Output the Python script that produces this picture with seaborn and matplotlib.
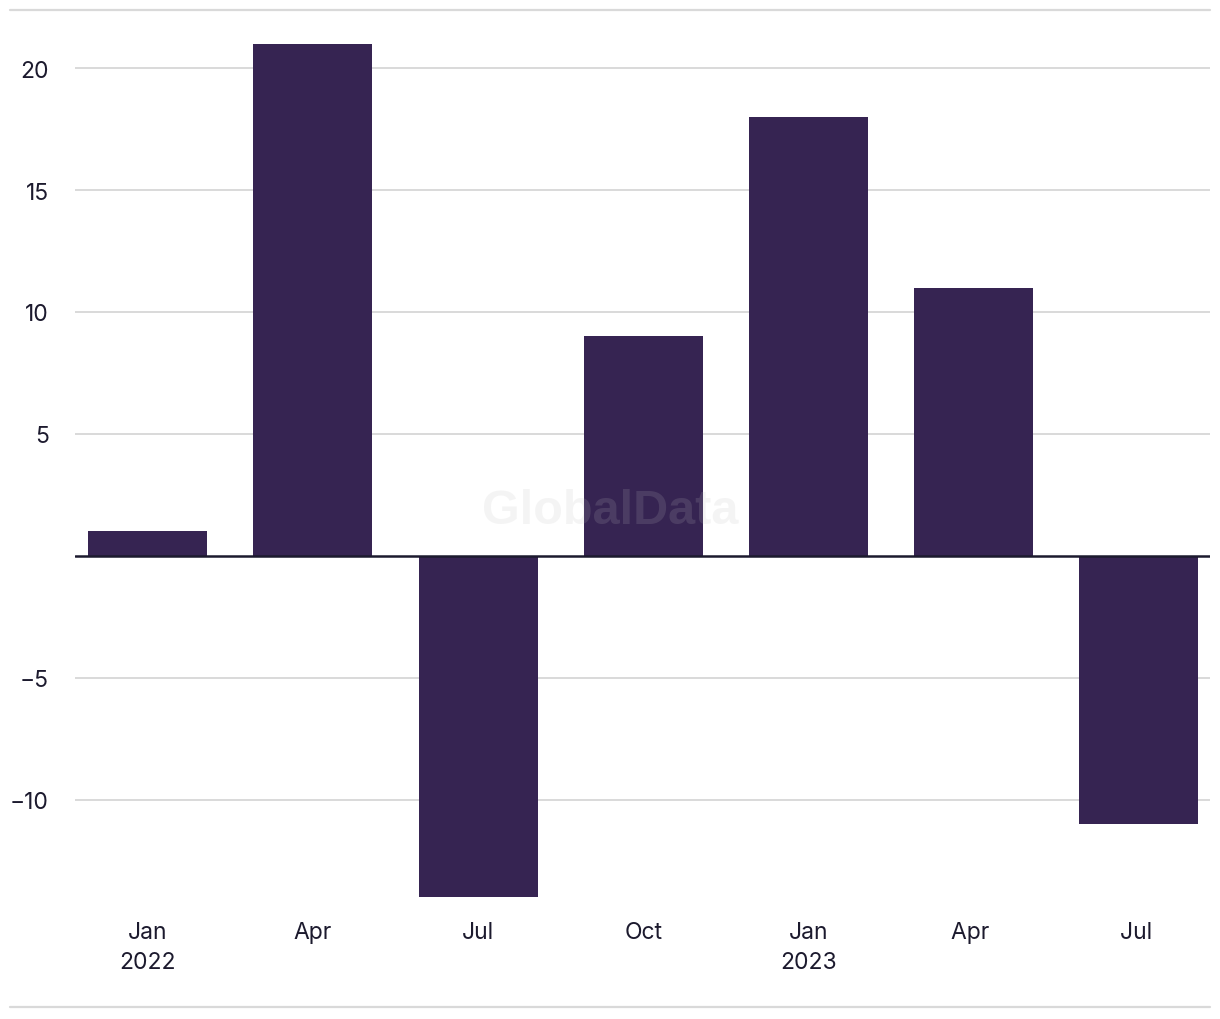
import matplotlib
matplotlib.use("Agg")
import matplotlib.pyplot as plt
import seaborn as sns
import pandas as pd
from matplotlib.lines import Line2D

categories = ["Jan\n2022", "Apr", "Jul", "Oct", "Jan\n2023", "Apr ", "Jul "]
values = [1, 21, -14, 9, 18, 11, -11]
yticks = [-10, -5, 0, 5, 10, 15, 20]

sns.set_theme(style="white")
plt.rcParams['font.family'] = ['Inter', 'DejaVu Sans']

df = pd.DataFrame({"period": categories, "value": values})

fig = plt.figure(figsize=(12.2, 10.2), dpi=100)
W, H = 1220, 1020
ax = fig.add_axes([75 / W, 1 - 903 / H, (1210 - 75) / W, (903 - 13) / H])

sns.barplot(data=df, x="period", y="value", order=categories, color="#362452",
            saturation=1, width=0.72, ax=ax, zorder=3, linewidth=0)

ax.set_xlim(-0.44, 6.43)
ax.set_ylim(-14.2, 22.3)
ax.set_yticks(yticks)
ax.set_yticklabels([("\u2212" + str(-t)) if t < 0 else ("" if t == 0 else str(t)) for t in yticks])
for t in yticks:
    if t != 0:
        ax.axhline(t, color="#d9d9d9", lw=1.4, zorder=1)
ax.axhline(0, color="#1c1a2e", lw=1.8, zorder=4)

for s in ax.spines.values():
    s.set_visible(False)
ax.set_xlabel("")
ax.set_ylabel("")
ax.tick_params(axis="y", length=0, pad=19, labelsize=16.5, labelcolor="#1c1a2e")
ax.tick_params(axis="x", length=0, pad=14, labelsize=16.5, labelcolor="#1c1a2e")
for lab in ax.get_xticklabels():
    lab.set_linespacing(1.45)
    lab.set_verticalalignment("top")

fig.add_artist(Line2D([10 / W, 1210 / W], [1 - 11 / H, 1 - 11 / H], color="#d9d9d9", lw=1.6))
fig.add_artist(Line2D([10 / W, 1210 / W], [1 - 1008 / H, 1 - 1008 / H], color="#d9d9d9", lw=1.6))

fig.text(610 / W, 1 - 512 / H, "GlobalData", ha="center", va="center", fontsize=35,
         fontweight="bold", color="#bebebe", alpha=0.16, zorder=10,
         family=["Liberation Sans", "DejaVu Sans"])

fig.savefig("out.png", dpi=100, facecolor="white")
